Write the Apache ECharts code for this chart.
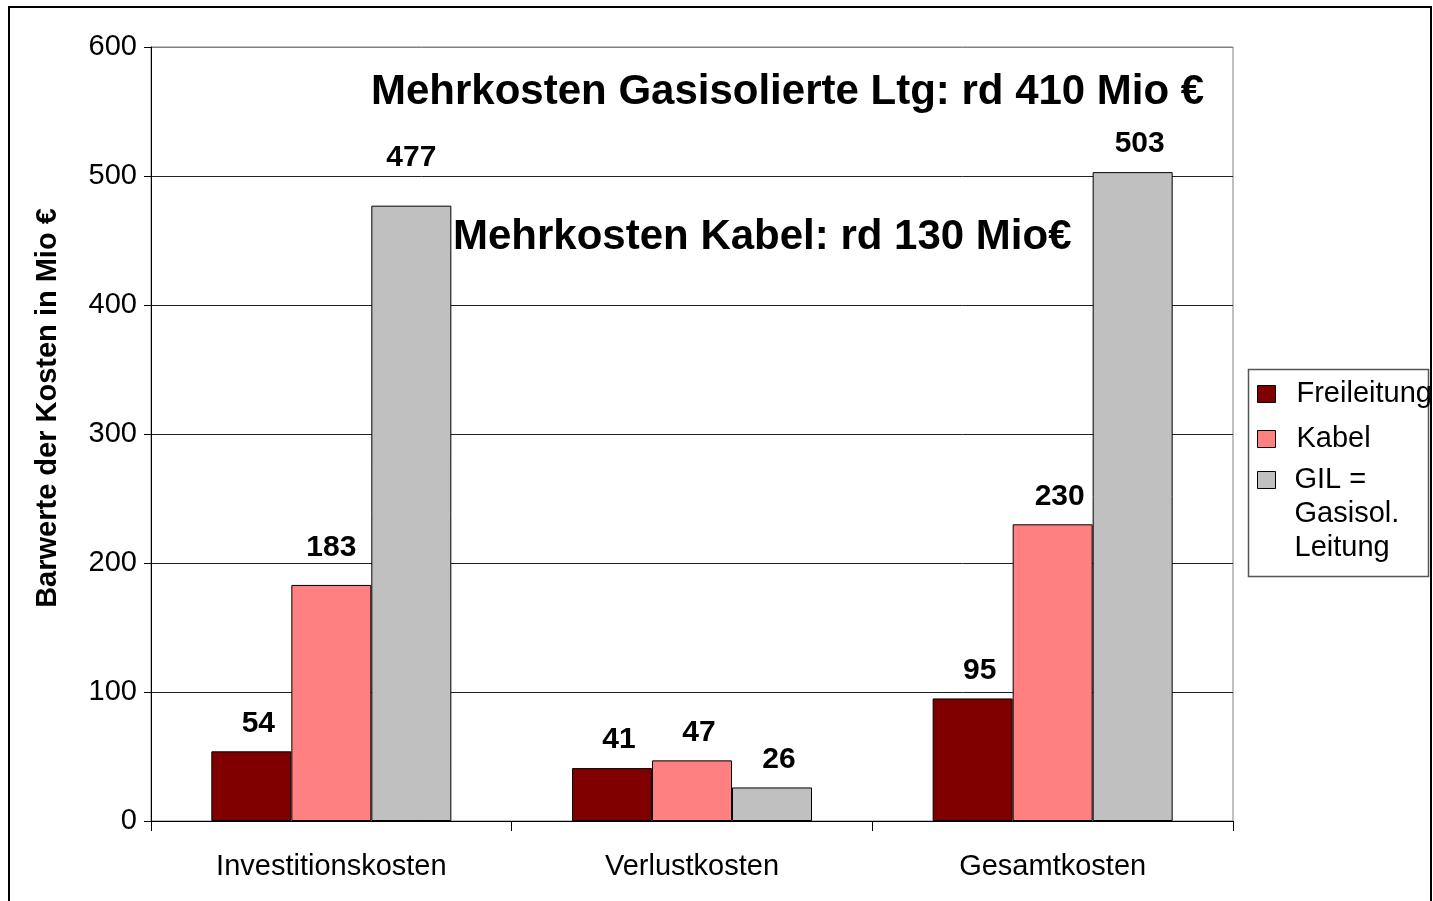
<!DOCTYPE html>
<html>
<head>
<meta charset="utf-8">
<title>Barwerte der Kosten</title>
<script src="https://cdn.jsdelivr.net/npm/echarts@6/dist/echarts.min.js"></script>
<style>
  html, body { margin: 0; padding: 0; background: #fff; }
  #chart { width: 1433px; height: 901px; }
</style>
</head>
<body>
<div id="chart"></div>
<script>
  var categories = ['Investitionskosten', 'Verlustkosten', 'Gesamtkosten'];
  var seriesNames = ['Freileitung', 'Kabel', 'GIL = Gasisol. Leitung'];
  var freileitung = [54, 41, 95];
  var kabel = [183, 47, 230];
  var gil = [477, 26, 503];
  var yTicks = [0, 100, 200, 300, 400, 500, 600];

  var FONT = '"Liberation Sans", Arial, sans-serif';
  var colors = ['#800000', '#FF8080', '#C0C0C0'];

  var chart = echarts.init(document.getElementById('chart'));

  function makeBar(name, values, color, tweak) {
    return {
      name: name,
      type: 'bar',
      barWidth: 80,
      barGap: '0%',
      data: values.map(function (v, i) {
        var item = { value: v };
        if (tweak && tweak[i]) item.label = tweak[i];
        return item;
      }),
      itemStyle: { color: color, borderColor: '#000', borderWidth: 1 },
      label: {
        show: true,
        position: 'top',
        distance: 13,
        offset: [7, 0],
        color: '#000',
        fontFamily: FONT,
        fontWeight: 'bold',
        fontSize: 30
      }
    };
  }

  var option = {
    backgroundColor: '#fff',
    animation: false,
    textStyle: { fontFamily: FONT, color: '#000' },
    grid: {
      left: 151, right: 200, top: 47, bottom: 80,
      show: true, borderColor: '#808080', borderWidth: 1
    },
    xAxis: {
      type: 'category',
      data: categories,
      axisLine: { lineStyle: { color: '#000', width: 1 } },
      axisTick: { show: true, length: 10, lineStyle: { color: '#000' } },
      axisLabel: { color: '#000', fontSize: 29, fontFamily: FONT, margin: 31 }
    },
    yAxis: {
      type: 'value',
      min: yTicks[0],
      max: yTicks[yTicks.length - 1],
      interval: 100,
      name: 'Barwerte der Kosten in Mio €',
      nameLocation: 'middle',
      nameGap: 89,
      nameTextStyle: {
        color: '#000', fontSize: 29, fontWeight: 'bold', fontFamily: FONT,
        padding: [0, 0, 0, 52]
      },
      axisLine: { show: true, lineStyle: { color: '#000', width: 1 } },
      axisTick: { show: true, length: 7, lineStyle: { color: '#000' } },
      axisLabel: { color: '#000', fontSize: 29, fontFamily: FONT, margin: 14 },
      splitLine: {
        show: true,
        lineStyle: { color: ['#222', '#222', '#222', '#222', '#222', '#222', '#808080'], width: 1 }
      }
    },
    legend: [
      {
        data: [seriesNames[0], seriesNames[1]],
        orient: 'vertical',
        left: 1257,
        top: 377,
        padding: 0,
        itemGap: 11,
        itemWidth: 18,
        itemHeight: 17,
        icon: 'rect',
        itemStyle: { borderColor: '#000', borderWidth: 1 },
        textStyle: { color: '#000', fontSize: 29, fontFamily: FONT, lineHeight: 34, padding: [0, 0, 0, 16] }
      },
      {
        // two empty lines above so "GIL =" sits level with the icon
        data: [seriesNames[2]],
        orient: 'vertical',
        left: 1257,
        top: 395,
        padding: 0,
        itemWidth: 18,
        itemHeight: 17,
        icon: 'rect',
        itemStyle: { borderColor: '#000', borderWidth: 1 },
        formatter: function () { return '\n\nGIL =\nGasisol.\nLeitung'; },
        textStyle: { color: '#000', fontSize: 29, fontFamily: FONT, lineHeight: 34, padding: [0, 0, 0, 14] }
      }
    ],
    graphic: [
      {
        type: 'rect', silent: true, z: 100,
        shape: { x: 9, y: 7, width: 1422, height: 1000 },
        style: { fill: 'none', stroke: '#000', lineWidth: 2 }
      },
      {
        type: 'rect', silent: true, z: 0,
        shape: { x: 1248.5, y: 369.5, width: 180, height: 207 },
        style: { fill: 'none', stroke: '#555', lineWidth: 1.5 }
      },
      {
        type: 'text', left: 371, top: 71, z: 50,
        style: { text: 'Mehrkosten Gasisolierte Ltg: rd 410 Mio €', font: 'bold 42px ' + FONT, fill: '#000' }
      },
      {
        type: 'text', left: 453, top: 216, z: 50,
        style: { text: 'Mehrkosten Kabel: rd 130 Mio€', font: 'bold 42px ' + FONT, fill: '#000' }
      }
    ],
    series: [
      makeBar(seriesNames[0], freileitung, colors[0]),
      makeBar(seriesNames[1], kabel, colors[1], [{ offset: [0, -9] }]),
      makeBar(seriesNames[2], gil, colors[2], [{ offset: [0, -20] }])
    ]
  };

  chart.setOption(option);
</script>
</body>
</html>
